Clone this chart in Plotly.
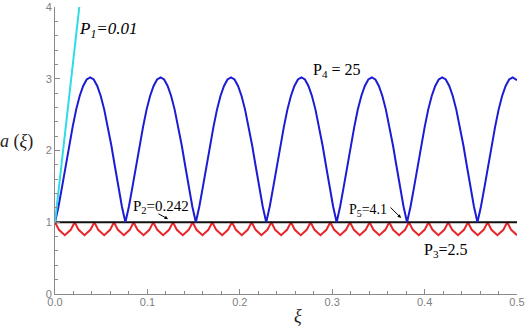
import plotly.graph_objects as go

# ---- data ----
cyan_x = [0.0, 0.005, 0.010, 0.015, 0.020, 0.0263]
cyan_y = [1.0, 1.56, 2.13, 2.70, 3.27, 4.0]

black_x = [0.0, 0.5]
black_y = [1.0, 1.0]

blue_x = [
    0.0000, 0.0038, 0.0076, 0.0114, 0.0152, 0.0191, 0.0229, 0.0267, 0.0305, 0.0343, 0.0381, 0.0419, 0.0457, 0.0495, 0.0533, 0.0572, 0.0610, 0.0648, 0.0686, 0.0724,
    0.0762, 0.0800, 0.0838, 0.0876, 0.0914, 0.0953, 0.0991, 0.1029, 0.1067, 0.1105, 0.1143, 0.1181, 0.1219, 0.1257, 0.1295, 0.1334, 0.1372, 0.1410, 0.1448, 0.1486,
    0.1524, 0.1562, 0.1600, 0.1638, 0.1676, 0.1715, 0.1753, 0.1791, 0.1829, 0.1867, 0.1905, 0.1943, 0.1981, 0.2019, 0.2057, 0.2096, 0.2134, 0.2172, 0.2210, 0.2248,
    0.2286, 0.2324, 0.2362, 0.2400, 0.2438, 0.2477, 0.2515, 0.2553, 0.2591, 0.2629, 0.2667, 0.2705, 0.2743, 0.2781, 0.2819, 0.2858, 0.2896, 0.2934, 0.2972, 0.3010,
    0.3048, 0.3086, 0.3124, 0.3162, 0.3200, 0.3239, 0.3277, 0.3315, 0.3353, 0.3391, 0.3429, 0.3467, 0.3505, 0.3543, 0.3581, 0.3620, 0.3658, 0.3696, 0.3734, 0.3772,
    0.3810, 0.3848, 0.3886, 0.3924, 0.3962, 0.4001, 0.4039, 0.4077, 0.4115, 0.4153, 0.4191, 0.4229, 0.4267, 0.4305, 0.4343, 0.4382, 0.4420, 0.4458, 0.4496, 0.4534,
    0.4572, 0.4610, 0.4648, 0.4686, 0.4724, 0.4763, 0.4801, 0.4839, 0.4877, 0.4915, 0.4953, 0.4991, 0.5000,
]
blue_y = [
    1.00, 1.22, 1.49, 1.78, 2.07, 2.33, 2.57, 2.76, 2.90, 2.99, 3.02, 2.99, 2.90, 2.76, 2.57, 2.33, 2.07, 1.78, 1.49, 1.22,
    1.00, 1.22, 1.49, 1.78, 2.07, 2.33, 2.57, 2.76, 2.90, 2.99, 3.02, 2.99, 2.90, 2.76, 2.57, 2.33, 2.07, 1.78, 1.49, 1.22,
    1.00, 1.22, 1.49, 1.78, 2.07, 2.33, 2.57, 2.76, 2.90, 2.99, 3.02, 2.99, 2.90, 2.76, 2.57, 2.33, 2.07, 1.78, 1.49, 1.22,
    1.00, 1.22, 1.49, 1.78, 2.07, 2.33, 2.57, 2.76, 2.90, 2.99, 3.02, 2.99, 2.90, 2.76, 2.57, 2.33, 2.07, 1.78, 1.49, 1.22,
    1.00, 1.22, 1.49, 1.78, 2.07, 2.33, 2.57, 2.76, 2.90, 2.99, 3.02, 2.99, 2.90, 2.76, 2.57, 2.33, 2.07, 1.78, 1.49, 1.22,
    1.00, 1.22, 1.49, 1.78, 2.07, 2.33, 2.57, 2.76, 2.90, 2.99, 3.02, 2.99, 2.90, 2.76, 2.57, 2.33, 2.07, 1.78, 1.49, 1.22,
    1.00, 1.22, 1.49, 1.78, 2.07, 2.33, 2.57, 2.76, 2.90, 2.99, 3.02, 2.99, 2.98,
]

red_x = [
    0.0000, 0.0043, 0.0106, 0.0170, 0.0213, 0.0256, 0.0319, 0.0383,
    0.0426, 0.0468, 0.0532, 0.0596, 0.0638, 0.0681, 0.0745, 0.0809,
    0.0851, 0.0894, 0.0958, 0.1021, 0.1064, 0.1107, 0.1170, 0.1234,
    0.1277, 0.1319, 0.1383, 0.1447, 0.1490, 0.1532, 0.1596, 0.1660,
    0.1702, 0.1745, 0.1809, 0.1872, 0.1915, 0.1958, 0.2022, 0.2085,
    0.2128, 0.2171, 0.2234, 0.2298, 0.2341, 0.2383, 0.2447, 0.2511,
    0.2554, 0.2596, 0.2660, 0.2724, 0.2766, 0.2809, 0.2873, 0.2937,
    0.2979, 0.3022, 0.3086, 0.3149, 0.3192, 0.3235, 0.3298, 0.3362,
    0.3405, 0.3447, 0.3511, 0.3575, 0.3618, 0.3660, 0.3724, 0.3788,
    0.3830, 0.3873, 0.3937, 0.4000, 0.4043, 0.4086, 0.4149, 0.4213,
    0.4256, 0.4299, 0.4362, 0.4426, 0.4469, 0.4511, 0.4575, 0.4639,
    0.4682, 0.4724, 0.4788, 0.4852, 0.4894, 0.4937, 0.5000,
]
red_y = [
    1.0, 0.894, 0.82, 0.894, 1.0, 0.894, 0.82, 0.894,
    1.0, 0.894, 0.82, 0.894, 1.0, 0.894, 0.82, 0.894,
    1.0, 0.894, 0.82, 0.894, 1.0, 0.894, 0.82, 0.894,
    1.0, 0.894, 0.82, 0.894, 1.0, 0.894, 0.82, 0.894,
    1.0, 0.894, 0.82, 0.894, 1.0, 0.894, 0.82, 0.894,
    1.0, 0.894, 0.82, 0.894, 1.0, 0.894, 0.82, 0.894,
    1.0, 0.894, 0.82, 0.894, 1.0, 0.894, 0.82, 0.894,
    1.0, 0.894, 0.82, 0.894, 1.0, 0.894, 0.82, 0.894,
    1.0, 0.894, 0.82, 0.894, 1.0, 0.894, 0.82, 0.894,
    1.0, 0.894, 0.82, 0.894, 1.0, 0.894, 0.82, 0.894,
    1.0, 0.894, 0.82, 0.894, 1.0, 0.894, 0.82, 0.894,
    1.0, 0.894, 0.82, 0.894, 1.0, 0.894, 0.82,
]

x_ticks = [0.0, 0.1, 0.2, 0.3, 0.4, 0.5]
x_tick_labels = ["0.0", "0.1", "0.2", "0.3", "0.4", "0.5"]
y_ticks = [0, 1, 2, 3, 4]
y_tick_labels = ["0", "1", "2", "3", "4"]

SERIF = "Liberation Serif, Times New Roman, serif"
SANS = "Liberation Sans, Arial, sans-serif"
GRAY = "#8a8a8a"

fig = go.Figure()
fig.add_trace(go.Scatter(x=red_x, y=red_y, mode="lines",
                         line=dict(color="#e8262a", width=2), showlegend=False))
fig.add_trace(go.Scatter(x=black_x, y=black_y, mode="lines",
                         line=dict(color="#111111", width=2), showlegend=False))
fig.add_trace(go.Scatter(x=blue_x, y=blue_y, mode="lines",
                         line=dict(color="#1c1cd2", width=2), showlegend=False))
fig.add_trace(go.Scatter(x=cyan_x, y=cyan_y, mode="lines",
                         line=dict(color="#2fdbe6", width=2), showlegend=False))

axis_common = dict(
    showline=True, linecolor=GRAY, linewidth=1, mirror=False,
    ticks="inside", ticklen=5, tickwidth=1, tickcolor=GRAY,
    showgrid=False, zeroline=False, automargin=False,
    tickfont=dict(family=SANS, size=11, color="#808080"),
)
fig.update_xaxes(range=[0, 0.5], tickvals=x_ticks, ticktext=x_tick_labels,
                 minor=dict(ticks="inside", dtick=0.02, ticklen=3, tickcolor=GRAY),
                 ticklabelstandoff=-2,
                 **axis_common)
fig.update_yaxes(range=[0, 4], tickvals=y_ticks, ticktext=y_tick_labels,
                 minor=dict(ticks="inside", dtick=0.2, ticklen=3, tickcolor=GRAY),
                 **axis_common)

def note(x, y, text, size, xref="x", yref="y", color="black"):
    return dict(x=x, y=y, xref=xref, yref=yref, showarrow=False, text=text,
                xanchor="center", yanchor="middle",
                font=dict(family=SERIF, size=size, color=color))

ann = [
    note(0.0584, 3.68, "<i>P<sub>1</sub>=0.01</i>", 17),
    note(0.305, 3.12, "P<sub>4</sub> = 25", 16),
    note(0.1147, 1.21, "P<sub>2</sub>=0.242", 15),
    dict(x=0.1223, y=1.045, xref="x", yref="y", showarrow=True, text="",
         ax=-11, ay=-6, arrowhead=2, arrowsize=0.7, arrowwidth=1, arrowcolor="black"),
    note(0.3387, 1.17, "P<sub>5</sub>=4.1", 14),
    dict(x=0.3745, y=1.06, xref="x", yref="y", showarrow=True, text="",
         ax=-12, ay=-12, arrowhead=2, arrowsize=0.7, arrowwidth=1, arrowcolor="black"),
    note(0.4232, 0.613, "P<sub>3</sub>=2.5", 16),
    note(-0.0823, 2.12, "<i>a</i> (<i>ξ</i>)", 18, xref="paper", color="#222222"),
    note(0.263, -0.0760, "<i>ξ</i>", 18, yref="paper", color="#222222"),
]

fig.update_layout(
    width=529, height=329,
    margin=dict(l=55, r=12, t=7, b=35),
    paper_bgcolor="white", plot_bgcolor="white",
    annotations=ann,
)

fig.write_html("out.html",
               config={"displayModeBar": False},
               post_script="document.body.style.margin='0';document.body.style.padding='0';")
